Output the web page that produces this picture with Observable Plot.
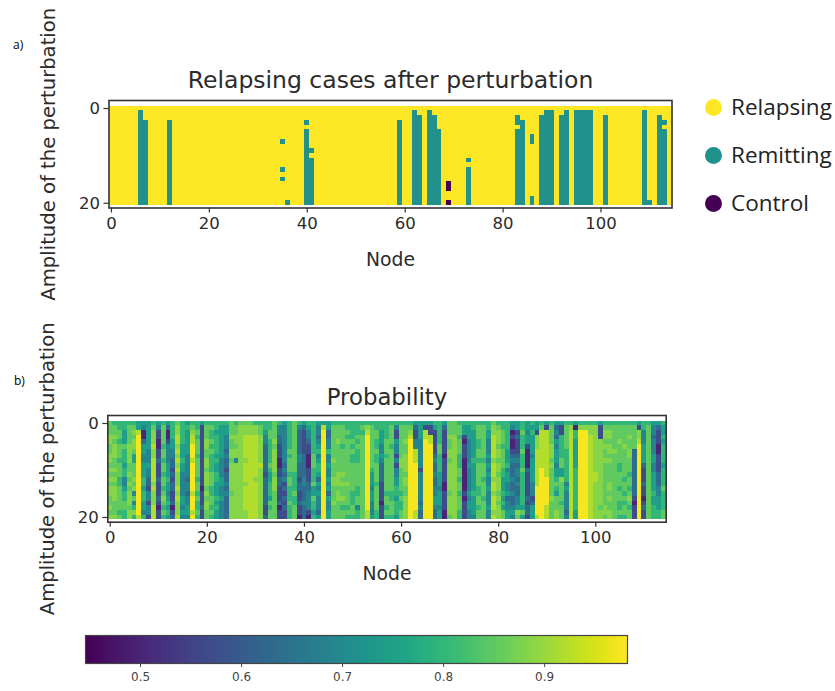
<!DOCTYPE html>
<html><head><meta charset="utf-8">
<script src="https://cdn.jsdelivr.net/npm/d3@7"></script>
<script src="https://cdn.jsdelivr.net/npm/@observablehq/plot@0.6"></script>
<style>
html,body{margin:0;padding:0;background:#fff}
#wrap{position:relative;width:835px;height:691px;overflow:hidden}
#wrap svg{position:absolute;left:0;background:transparent}
g[aria-label="rect"]{filter:blur(.5px)}
.note{position:absolute;font:12px "Open Sans";color:#000}
.leg{position:absolute;font:22.5px "Open Sans";color:#222;left:731px;line-height:28px;white-space:nowrap}
.dot{position:absolute;left:705px;width:17px;height:17px;border-radius:50%}
</style>
</head><body><div id="wrap"></div>
<script>
const titleA = "Relapsing cases after perturbation";
const titleB = "Probability";
const xLabel = "Node";
const yLabel = "Amplitude of the perturbation";
const xTicks = [0, 20, 40, 60, 80, 100];
const yTicks = [0, 20];
const barTicks = [0.5, 0.6, 0.7, 0.8, 0.9];
const classNames = ["Relapsing", "Remitting", "Control"];
const nodeCount = 115;
const rowCount = 21;

// [node, first row, last row]
const remittingRuns = [
 [6,1,20],[7,3,20],[12,3,20],[35,7,7],[35,13,13],[35,15,15],[36,20,20],
 [40,3,3],[40,5,20],[41,9,9],[41,11,20],[59,3,20],[62,1,20],[63,2,20],
 [65,1,20],[66,2,20],[67,5,20],[73,11,11],[73,13,20],[83,2,3],[83,5,20],
 [84,3,20],[86,6,7],[86,19,20],[88,2,20],[89,1,20],[90,1,20],[92,2,20],
 [93,1,20],[95,1,20],[96,1,20],[97,1,20],[98,1,20],[101,2,20],[109,1,20],
 [110,20,20],[112,2,20],[113,3,3],[113,5,20]
];
const controlRuns = [[69,16,17],[69,20,20]];

// one string per node, rows 0..20 top to bottom; each digit indexes probabilityLevels
const probabilityLevels = [0.5,0.57,0.63,0.69,0.745,0.80,0.85,0.885,0.92,0.975];
const probabilityColumns = [
"6667766 7767676 7766767","5667677 7667676 7776667","5566566 6566655 6666656","5544465 5545533 4556655",
"5666677 7766767 6777677","5676776 4466676 7363575","4489999 9999999 9999998","4300244 3344455 4554435",
"4444443 3343322 1331331","5677787 7888887 8777888","4311001 1211121 1121011","5666656 6566566 5676565",
"4200133 3344454 4345454","5555443 3221212 2112012","6778878 7878777 8787778","5555544 4544333 3344343",
"4544444 3333323 3233443","5678899 9899999 9899989","5565666 5666656 6565565","4111111 1111111 0111211",
"5666776 6776777 6767766","5655656 5555666 5566565","5545555 4544554 4454544","5444444 4333344 3343333",
"5443332 3221223 2322222","6667667 7677777 7677777","5667767 7377777 7777777","6777777 7777777 7777777",
"6778888 8788887 8888877","6778888 8888888 8888888","5778888 8888878 8888888","5667777 7787777 7777777",
"5543322 2222122 2222112","5566555 5565445 5546566","6666767 7777677 7666666","5332211 1001122 1112011",
"4333333 3323231 2121211","5555556 5666566 5556555","6666666 6666555 5655666","5322222 3322212 2112110",
"4211111 2222233 2223222","5433211 0001112 2333310","5555555 6665556 4465545","4332345 3455424 3433324",
"4899999 9999999 9999999","4422335 3343343 4243344","5666666 6766677 6667666","5666766 6666777 6776666",
"5666656 6666767 6676566","5565666 6666667 6666565","5555656 5566666 6555665","5556565 5566666 5566355",
"5656666 6666666 6666666","5789999 9999999 9999988","5666666 6665444 3443334","5566556 5566665 6666655",
"5544433 4322221 1110111","5555666 5666666 6566565","5666656 6666666 6556665","5311433 1313344 5545554",
"5666666 6776666 6565566","5666766 7777677 6677777","5678999 9999999 9999999","4211338 8899999 9999988",
"4444333 3331333 3332322","4188999 9999999 9999999","4118899 9999999 9999999","5411111 2322322 3344322",
"5555566 5555444 3444344","4211111 0111110 0111100","6667667 7677777 7677776","6667777 7777777 7777777",
"5665666 5556656 6566655","5441011 1000000 0101111","5444333 3343333 3434433","5544444 4544444 4544443",
"5666556 6566666 5566566","5666666 6566656 6656666","5544333 4343433 4333433","6778888 8788878 8788878",
"5677767 7677677 7676777","5566656 6665544 4545466","5555554 4453443 3423344","4301001 2322232 2322343",
"4412111 2323323 2233476","5565556 5556555 5555464","4434410 0002111 1121221","5454444 3444443 3312444",
"4417778 8888888 9999998","5688888 8889999 9999999","4188888 8888899 9999888","5666677 7676666 6676666",
"4232434 4434456 5466677","4115555 5664476 6665666","5666665 5555553 4333323","5788888 8888888 8888888",
"4055444 4445555 5555544","5799999 9999999 9999999","5799999 9999999 9999999","5778888 8888888 8888888",
"5777777 7777887 7777777","4111777 7777777 7777677","5677676 6766666 6666776","5677677 6766667 7676677",
"5666667 6666666 6666666","5666766 6655666 5665565","5666676 6666656 6565665","5667667 7666566 5676566",
"5666662 2222222 2210111","4177899 9999999 9999999","5533344 4421112 1101211","5666666 6666666 6666666",
"4332333 4433444 4544555","4211100 1111222 3344455","5445455 5545555 6555566"
];

const stateCells = [];
for (let c = 0; c < nodeCount; c++) for (let r = 0; r < rowCount; r++) {
  let v = 2;
  for (const [n,a,b] of remittingRuns) if (n === c && r >= a && r <= b) v = 1;
  for (const [n,a,b] of controlRuns) if (n === c && r >= a && r <= b) v = 0;
  stateCells.push({c, r, v});
}
const probCells = [];
probabilityColumns.forEach((s, c) => {
  [...s.replace(/ /g, "")].forEach((d, r) => probCells.push({c, r, v: probabilityLevels[+d]}));
});

const W = 835;
const wrap = document.getElementById("wrap");
const ink = "#2b2b2b";

function panel({top, height, left, right, fTop, fBottom, yDomain, title, titleSize, titleDy, labelDy, cells, color}) {
  const p = Plot.plot({
    width: W, height,
    marginLeft: left, marginRight: W - right,
    marginTop: fTop - top, marginBottom: top + height - fBottom,
    style: {fontFamily: "DejaVu Sans", color: ink, background: "transparent"},
    x: {domain: [-0.5, nodeCount - 0.5], label: null},
    y: {domain: yDomain, label: null},
    color,
    marks: [
      Plot.rect(cells, {x1: d => d.c - .5, x2: d => d.c + .5, y1: d => d.r - .5, y2: d => d.r + .5,
        fill: "v", inset: 0, shapeRendering: "crispEdges"}),
      Plot.axisX({ticks: xTicks, tickSize: 5, tickPadding: 4, fontSize: 16.5, label: null, stroke: "#333", strokeWidth: 1.2}),
      Plot.axisY({ticks: yTicks, tickSize: 5, tickPadding: 4, fontSize: 16.5, label: null, stroke: "#333", strokeWidth: 1.2}),
      Plot.frame({stroke: "#333", strokeWidth: 1.6}),
      Plot.text([title], {frameAnchor: "top", dy: titleDy, fontSize: titleSize, fill: ink, lineAnchor: "middle"}),
      Plot.text([xLabel], {frameAnchor: "bottom", dy: labelDy, fontSize: 18.8, fill: ink, lineAnchor: "middle"}),
      Plot.text([yLabel], {frameAnchor: "left", dx: -60, rotate: -90, fontSize: 19.6, fill: ink, textAnchor: "middle", lineAnchor: "middle"})
    ]
  });
  p.style.top = top + "px";
  wrap.appendChild(p);
}
const stateColor = {type: "linear", scheme: "viridis", domain: [0, 2]};
const probColor = {type: "linear", scheme: "viridis", domain: [0.4455, 0.982]};
panel({top: 0, height: 310, left: 108.5, right: 671.5, fTop: 100, fBottom: 207.5, yDomain: [21, -1.69],
  title: titleA, titleSize: 23.5, titleDy: -20, labelDy: 52, cells: stateCells, color: stateColor});
panel({top: 315, height: 310, left: 107.3, right: 665.7, fTop: 415, fBottom: 521.7, yDomain: [21, -1.7],
  title: titleB, titleSize: 22.8, titleDy: -18, labelDy: 52, cells: probCells, color: probColor});

const bar = Plot.plot({
  width: W, height: 691 - 620,
  marginLeft: 85, marginRight: W - 627, marginTop: 15, marginBottom: 28,
  style: {fontFamily: "DejaVu Sans", color: "#444", background: "transparent"},
  x: {domain: probColor.domain, label: null},
  y: {domain: [0, 1], axis: null},
  color: probColor,
  marks: [
    Plot.raster({x1: probColor.domain[0], x2: probColor.domain[1], y1: 0, y2: 1, width: 540, height: 1,
      fill: (x) => x, imageRendering: "auto"}),
    Plot.axisX({ticks: barTicks, tickSize: 4, tickPadding: 5, fontSize: 12, tickFormat: d3.format(".1f"), label: null, stroke: "#444"}),
    Plot.frame({stroke: "#444", strokeWidth: 1.2})
  ]
});
bar.style.top = "620px";
wrap.appendChild(bar);

function note(text, x, y) { const d = document.createElement("div"); d.className = "note"; d.textContent = text; d.style.left = x + "px"; d.style.top = y + "px"; wrap.appendChild(d); }
note("a)", 13, 36); note("b)", 14, 372);
[["#fde725",107],["#21918c",155],["#440154",203]].forEach(([col, y], i) => {
  const dot = document.createElement("div"); dot.className = "dot"; dot.style.background = col; dot.style.top = (y - 8.5) + "px"; wrap.appendChild(dot);
  const t = document.createElement("div"); t.className = "leg"; t.textContent = classNames[i]; t.style.top = (y - 14) + "px"; wrap.appendChild(t);
});
</script></body></html>
